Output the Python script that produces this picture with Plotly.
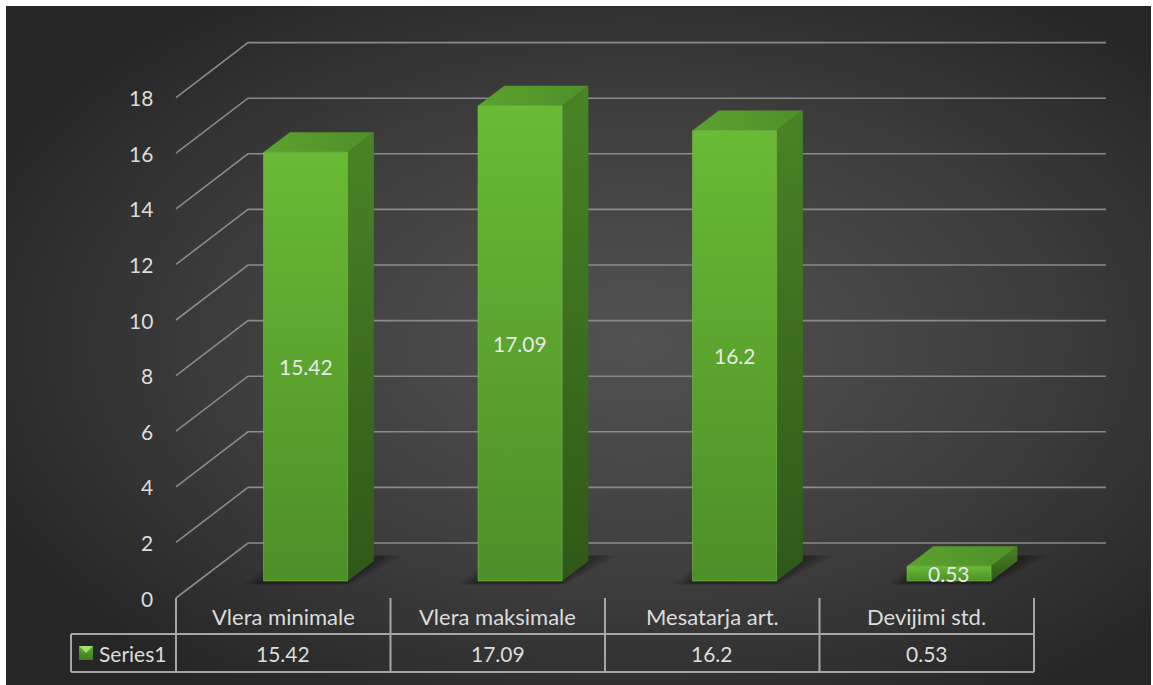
import base64
import plotly.graph_objects as go

# ---------------- data ----------------
categories = ["Vlera minimale", "Vlera maksimale", "Mesatarja art.", "Devijimi std."]
values = [15.42, 17.09, 16.2, 0.53]
value_labels = ["15.42", "17.09", "16.2", "0.53"]
y_ticks = [0, 2, 4, 6, 8, 10, 12, 14, 16, 18]
series_name = "Series1"

# ---------------- geometry / style ----------------
W, H = 1153, 685
PX0, PXU = 176.0, 214.5      # pixel x of category 0 edge, pixels per category
PY0, PYV = 598.0, 27.8       # pixel y of value 0 (front), pixels per unit
DDX, DDY = 72.0 / PXU, 55.0 / PYV   # full depth offset in data units
BAR_HW = 0.196
BAR_DF, BAR_DB = 0.31, 0.675

XR = [(0 - PX0) / PXU, (W - PX0) / PXU]
YR = [(PY0 - H) / PYV, PY0 / PYV]

def ux(px):
    return (px - PX0) / PXU

def vy(py):
    return (PY0 - py) / PYV

def proj(u, v, d):
    return u + d * DDX, v + d * DDY

FONT = "Lato"
TXT = "#dcdcdc"
GRID = "#8a8a8a"
TABLE = "#a6a6a6"
NUM_SIZE = 21
CAT_SIZE = 22
n = len(categories)

fig = go.Figure()

# ---------------- gridlines (left wall diagonal + back wall) ----------------
gx, gy = [], []
for t in y_ticks:
    x0, y0 = proj(0, t, 0)
    x1, y1 = proj(0, t, 1)
    x2, y2 = proj(n, t, 1)
    gx += [x0, x1, x2, None]
    gy += [y0, y1, y2, None]
fig.add_trace(go.Scatter(x=gx, y=gy, mode="lines", line=dict(color=GRID, width=1.6),
                         hoverinfo="skip", showlegend=False))

def poly(pts, fillcolor=None, grad=None, line=None):
    xs = [p[0] for p in pts] + [pts[0][0]]
    ys = [p[1] for p in pts] + [pts[0][1]]
    kw = dict(x=xs, y=ys, mode="lines", fill="toself", hoverinfo="skip", showlegend=False)
    if line:
        kw["line"] = line
    else:
        kw["line"] = dict(width=0, color="rgba(0,0,0,0)")
    if grad:
        kw["fillgradient"] = grad
    else:
        kw["fillcolor"] = fillcolor
    fig.add_trace(go.Scatter(**kw))

# ---------------- shadows ----------------
for i, val in enumerate(values):
    c = i + 0.5
    for e, a in [(0.07, 0.10), (0.045, 0.12), (0.02, 0.14)]:
        pts = [proj(c - BAR_HW - e, 0, BAR_DF - 0.06),
               proj(c + BAR_HW + e * 0.5, 0, BAR_DF - 0.06),
               proj(c + BAR_HW + e * 1.5, 0, BAR_DB + 0.1),
               proj(c - BAR_HW - e, 0, BAR_DB + 0.1)]
        poly(pts, fillcolor=f"rgba(0,0,0,{a})")

# ---------------- bars ----------------
for i, val in enumerate(values):
    c = i + 0.5
    l, r = c - BAR_HW, c + BAR_HW
    side = [proj(r, 0, BAR_DF), proj(r, 0, BAR_DB), proj(r, val, BAR_DB), proj(r, val, BAR_DF)]
    poly(side, grad=dict(type="vertical", colorscale=[[0, "#2f5818"], [1, "#4a8426"]]))
    top = [proj(l, val, BAR_DF), proj(r, val, BAR_DF), proj(r, val, BAR_DB), proj(l, val, BAR_DB)]
    poly(top, grad=dict(type="horizontal", colorscale=[[0, "#5ba22e"], [1, "#4f8f28"]]))
    front = [proj(l, 0, BAR_DF), proj(r, 0, BAR_DF), proj(r, val, BAR_DF), proj(l, val, BAR_DF)]
    poly(front, grad=dict(type="vertical", colorscale=[[0, "#4d8f28"], [1, "#69ba35"]]),
         line=dict(width=1, color="rgba(120,200,70,0.55)"))

# ---------------- legend key ----------------
kx0, kx1 = ux(79), ux(93)
ky0, ky1 = vy(660), vy(646)
poly([(kx0, ky0), (kx1, ky0), (kx1, ky1), (kx0, ky1)],
     grad=dict(type="vertical", colorscale=[[0, "#3f7a20"], [1, "#5faa30"]]))
poly([(kx0, ky1), (kx1, ky1), ((kx0 + kx1) / 2, (ky0 + ky1) / 2)], fillcolor="#9ee06a")

# ---------------- table lines ----------------
table_top = 0.0
row_mid = vy(634)
row_bot = vy(672)
key_left = ux(71)
shapes = []
for k in range(n + 1):
    shapes.append(dict(type="line", xref="x", yref="y", x0=k, x1=k, y0=table_top, y1=row_bot,
                       line=dict(color=TABLE, width=2)))
for yy in (row_mid, row_bot):
    shapes.append(dict(type="line", xref="x", yref="y", x0=key_left, x1=n, y0=yy, y1=yy,
                       line=dict(color=TABLE, width=2)))
shapes.append(dict(type="line", xref="x", yref="y", x0=key_left, x1=key_left, y0=row_mid, y1=row_bot,
                   line=dict(color=TABLE, width=2)))
shapes += [
    dict(type="rect", xref="paper", yref="paper", x0=0, x1=1, y0=1 - 6 / H, y1=1,
         fillcolor="white", line=dict(width=0), layer="above"),
    dict(type="rect", xref="paper", yref="paper", x0=0, x1=6 / W, y0=0, y1=1,
         fillcolor="white", line=dict(width=0), layer="above"),
    dict(type="rect", xref="paper", yref="paper", x0=1151 / W, x1=1, y0=0, y1=1,
         fillcolor="white", line=dict(width=0), layer="above"),
]

# ---------------- text ----------------
ann = []
for t in y_ticks:
    ann.append(dict(x=ux(155), y=t, xref="x", yref="y", text=str(t), showarrow=False,
                    xanchor="right", yanchor="middle", font=dict(family=FONT, size=NUM_SIZE, color=TXT)))
row1_y = (table_top + row_mid) / 2 - 0.03
row2_y = (row_mid + row_bot) / 2
for i, cat in enumerate(categories):
    ann.append(dict(x=i + 0.5, y=row1_y, xref="x", yref="y", text=cat, showarrow=False,
                    xanchor="center", yanchor="middle", font=dict(family=FONT, size=CAT_SIZE, color=TXT)))
    ann.append(dict(x=i + 0.5, y=row2_y, xref="x", yref="y", text=value_labels[i], showarrow=False,
                    xanchor="center", yanchor="middle", font=dict(family=FONT, size=NUM_SIZE, color=TXT)))
ann.append(dict(x=ux(97), y=row2_y, xref="x", yref="y", text=series_name, showarrow=False,
                xanchor="left", yanchor="middle", font=dict(family=FONT, size=NUM_SIZE, color=TXT)))
for i, val in enumerate(values):
    bx, by = proj(i + 0.5, val / 2, BAR_DF)
    ann.append(dict(x=bx, y=by, xref="x", yref="y", text=value_labels[i], showarrow=False,
                    xanchor="center", yanchor="middle", font=dict(family=FONT, size=NUM_SIZE, color="#e8e8e8")))

# ---------------- background gradient ----------------
svg = ("<svg xmlns='http://www.w3.org/2000/svg' width='1145' height='679' preserveAspectRatio='none'>"
       "<defs><radialGradient id='g' cx='0.55' cy='0.5' r='0.62'>"
       "<stop offset='0' stop-color='#525252'/><stop offset='0.55' stop-color='#3e3e3e'/>"
       "<stop offset='1' stop-color='#262626'/></radialGradient></defs>"
       "<rect width='100%' height='100%' fill='url(#g)'/></svg>")
src = "data:image/svg+xml;base64," + base64.b64encode(svg.encode()).decode()

fig.update_layout(
    width=W, height=H,
    margin=dict(l=0, r=0, t=0, b=0),
    paper_bgcolor="white",
    plot_bgcolor="rgba(0,0,0,0)",
    xaxis=dict(range=XR, visible=False, fixedrange=True),
    yaxis=dict(range=YR, visible=False, fixedrange=True),
    shapes=shapes,
    annotations=ann,
    images=[dict(source=src, xref="paper", yref="paper", x=0, y=1, sizex=1, sizey=1,
                 sizing="stretch", layer="below", xanchor="left", yanchor="top")],
    showlegend=False,
)

fig.write_html("out.html")
